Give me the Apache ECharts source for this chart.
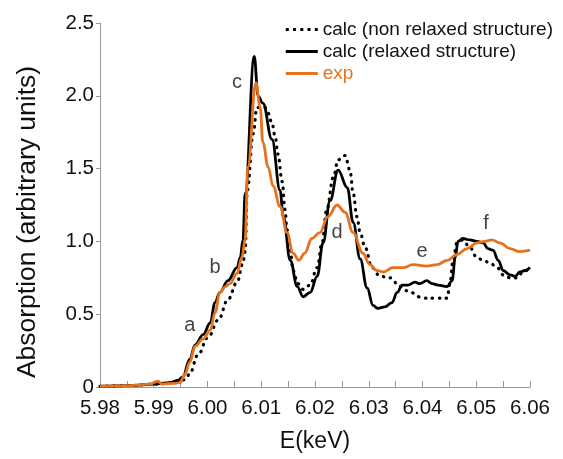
<!DOCTYPE html>
<html>
<head>
<meta charset="utf-8">
<script src="https://cdn.jsdelivr.net/npm/echarts@6/dist/echarts.min.js"></script>
<style>html,body{margin:0;padding:0;background:#fff;}#c{width:563px;height:459px;}</style>
</head>
<body>
<div id="c"></div>
<script>
// non relaxed structure (dotted)
const nonRelaxedX = [5.9800,5.9856,5.9900,5.9940,5.9958,5.9967,5.9982,6.0001,6.0020,6.0038,6.0055,6.0066,6.0070,6.0074,6.0085,6.0092,6.0107,6.0113,6.0120,6.0126,6.0131,6.0139,6.0144,6.0148,6.0154,6.0159,6.0168,6.0178,6.0191,6.0204,6.0213,6.0222,6.0234,6.0243,6.0256,6.0265,6.0271,6.0278,6.0284,6.0293,6.0306,6.0321,6.0340,6.0358,6.0377,6.0401,6.0427,6.0446,6.0451,6.0457,6.0464,6.0475,6.0488,6.0501,6.0513,6.0526,6.0539,6.0550,6.0563,6.0576,6.0587,6.0600];
const nonRelaxedY = [0.005,0.01,0.02,0.03,0.05,0.09,0.22,0.34,0.46,0.60,0.72,0.85,0.93,1.35,1.74,1.92,1.92,1.88,1.81,1.72,1.60,1.41,1.22,1.08,0.94,0.80,0.71,0.67,0.70,0.82,0.99,1.22,1.44,1.56,1.59,1.49,1.33,1.17,1.06,0.96,0.82,0.76,0.75,0.69,0.65,0.61,0.61,0.61,0.71,0.87,0.99,1.01,0.96,0.89,0.87,0.85,0.82,0.77,0.75,0.75,0.79,0.82];
// relaxed structure (solid black)
const relaxedX = [5.9800,5.9856,5.9900,5.9930,5.9945,5.9954,5.9967,5.9977,5.9992,6.0005,6.0014,6.0023,6.0038,6.0055,6.0061,6.0066,6.0070,6.0087,6.0094,6.0103,6.0120,6.0135,6.0141,6.0154,6.0167,6.0178,6.0191,6.0204,6.0215,6.0228,6.0243,6.0260,6.0271,6.0284,6.0297,6.0308,6.0317,6.0330,6.0343,6.0353,6.0362,6.0373,6.0386,6.0395,6.0408,6.0418,6.0429,6.0446,6.0455,6.0461,6.0466,6.0475,6.0488,6.0501,6.0513,6.0522,6.0531,6.0541,6.0550,6.0563,6.0572,6.0581,6.0591,6.0600];
const relaxedY = [0.005,0.01,0.02,0.03,0.045,0.07,0.19,0.29,0.36,0.44,0.58,0.65,0.73,0.82,0.89,1.01,1.33,2.27,2.00,1.95,1.70,1.35,1.17,0.87,0.69,0.62,0.65,0.76,0.99,1.28,1.49,1.37,1.13,0.88,0.68,0.56,0.54,0.55,0.58,0.65,0.70,0.70,0.72,0.71,0.73,0.71,0.70,0.69,0.73,0.89,1.00,1.02,1.01,1.00,0.99,0.95,0.94,0.87,0.80,0.77,0.76,0.79,0.80,0.82];
// experiment (orange)
const expX = [5.9800,5.9856,5.9893,5.9908,5.9915,5.9940,5.9949,5.9958,5.9967,5.9977,5.9992,6.0005,6.0014,6.0023,6.0033,6.0042,6.0055,6.0064,6.0070,6.0075,6.0090,6.0098,6.0103,6.0113,6.0122,6.0135,6.0148,6.0159,6.0170,6.0181,6.0194,6.0209,6.0224,6.0241,6.0256,6.0271,6.0289,6.0302,6.0315,6.0327,6.0345,6.0364,6.0382,6.0408,6.0427,6.0446,6.0464,6.0483,6.0501,6.0516,6.0529,6.0544,6.0563,6.0581,6.0600];
const expY = [0.005,0.01,0.02,0.04,0.02,0.025,0.03,0.09,0.17,0.28,0.33,0.39,0.51,0.65,0.69,0.71,0.78,0.89,1.01,1.51,2.09,1.92,1.68,1.51,1.38,1.24,1.06,0.92,0.87,0.92,1.02,1.06,1.17,1.25,1.20,1.06,0.92,0.84,0.80,0.79,0.82,0.82,0.84,0.83,0.84,0.87,0.91,0.95,0.99,1.00,1.01,0.99,0.95,0.93,0.94];
// peak annotations
const peakNames = ['a','b','c','d','e','f'];
const peakX = [5.9967,6.0014,6.0055,6.0241,6.0399,6.0518];
const peakY = [0.42,0.82,2.09,1.06,0.93,1.12];
const xTicks = [5.98,5.99,6.00,6.01,6.02,6.03,6.04,6.05,6.06];
const yTicks = [0,0.5,1.0,1.5,2.0,2.5];
const seriesNames = ['calc (non relaxed structure)','calc (relaxed structure)','exp'];

const zip = (xs, ys) => xs.map((x, i) => [x, ys[i]]);
const FONT = 'Liberation Sans, Arial, Helvetica, sans-serif';
const ORANGE = '#E8711C';
const DOT_ICON = 'path://M0,0h3v3h-3z M7.25,0h3v3h-3z M14.5,0h3v3h-3z M21.75,0h3v3h-3z M29,0h3v3h-3z';
const LINE_ICON = 'path://M0,0h32v3h-32z';

const chart = echarts.init(document.getElementById('c'), null, {renderer: 'canvas'});
chart.setOption({
  animation: false,
  backgroundColor: '#fff',
  textStyle: {fontFamily: FONT},
  grid: {left: 100, right: 33, top: 23, bottom: 72},
  legend: {
    orient: 'vertical', right: 5, top: 15,
    itemWidth: 32, itemHeight: 3, itemGap: 3,
    textStyle: {fontFamily: FONT, fontSize: 19, color: '#111', lineHeight: 19},
    data: [
      {name: seriesNames[0], icon: DOT_ICON, itemStyle: {color: '#000'}},
      {name: seriesNames[1], icon: LINE_ICON, itemStyle: {color: '#000'}},
      {name: seriesNames[2], icon: LINE_ICON, itemStyle: {color: ORANGE}, textStyle: {color: ORANGE}}
    ]
  },
  xAxis: {
    type: 'value', min: xTicks[0], max: xTicks[xTicks.length - 1], interval: 0.01,
    name: 'E(keV)', nameLocation: 'middle', nameGap: 43,
    nameTextStyle: {fontFamily: FONT, fontSize: 23, color: '#111'},
    axisLine: {show: true, lineStyle: {color: '#999', width: 1}},
    axisTick: {show: true, inside: true, length: 6, lineStyle: {color: '#999'}},
    minorTick: {show: true, splitNumber: 2, length: 6, lineStyle: {color: '#999'}},
    splitLine: {show: false},
    axisLabel: {fontFamily: FONT, fontSize: 20.5, color: '#111', margin: 11,
      formatter: v => v.toFixed(2)}
  },
  yAxis: {
    type: 'value', min: yTicks[0], max: yTicks[yTicks.length - 1], interval: 0.5,
    name: 'Absorption (arbitrary units)', nameLocation: 'middle', nameGap: 59,
    nameTextStyle: {fontFamily: FONT, fontSize: 26.5, color: '#111', padding: [0, 34, 0, 0]},
    axisLine: {show: true, lineStyle: {color: '#999', width: 1}},
    axisTick: {show: true, inside: false, length: 4, lineStyle: {color: '#999'}},
    splitLine: {show: false},
    axisLabel: {fontFamily: FONT, fontSize: 20.5, color: '#111', margin: 6,
      formatter: v => v === 0 ? '0' : v.toFixed(1)}
  },
  series: [
    {
      name: seriesNames[0], type: 'line', data: zip(nonRelaxedX, nonRelaxedY),
      symbol: 'none', smooth: 0.4, smoothMonotone: 'x', z: 3,
      lineStyle: {color: '#000', width: 3.2, type: [0.5, 6.5], cap: 'round'},
      itemStyle: {color: '#000'}
    },
    {
      name: seriesNames[1], type: 'line', data: zip(relaxedX, relaxedY),
      symbol: 'none', smooth: 0.4, smoothMonotone: 'x', z: 4,
      lineStyle: {color: '#000', width: 2.8},
      itemStyle: {color: '#000'}
    },
    {
      name: seriesNames[2], type: 'line', data: zip(expX, expY),
      symbol: 'none', smooth: 0.4, smoothMonotone: 'x', z: 5,
      lineStyle: {color: ORANGE, width: 2.8},
      itemStyle: {color: ORANGE}
    },
    {
      name: 'peaks', type: 'scatter', symbolSize: 0, silent: true, z: 6,
      data: peakNames.map((n, i) => ({name: n, value: [peakX[i], peakY[i]]})),
      label: {show: true, position: 'inside', formatter: p => p.name,
        fontFamily: FONT, fontSize: 20, color: '#111'}
    }
  ]
});
</script>
</body>
</html>
